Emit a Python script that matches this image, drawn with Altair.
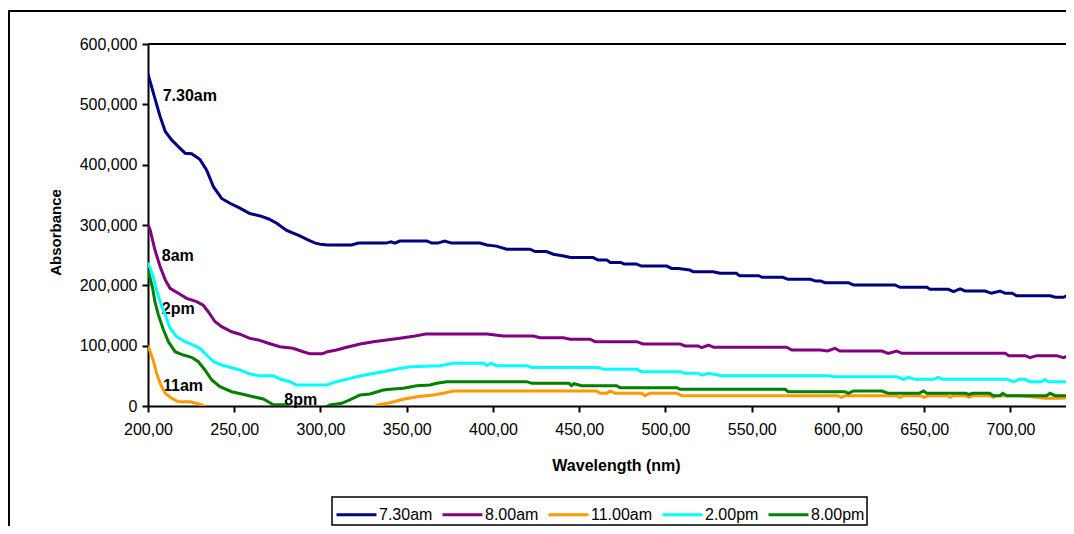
import altair as alt
import pandas as pd

FONT = "Liberation Sans"

series_names = ["7.30am", "8.00am", "11.00am", "2.00pm", "8.00pm"]
series_colors = ["#000080", "#800080", "#FF9900", "#00FFFF", "#008000"]

wl_730 = [200, 202, 204, 207, 210, 213.7, 218.6, 221.5, 225.3, 230, 234, 238, 242.7, 247.5, 253.3,
          259, 265, 270, 274.6, 280.4, 288, 293, 297, 300, 304, 318, 322, 338, 341, 343, 346, 361.6,
          364.5, 368, 372, 376, 392.5, 396.4, 402, 408, 421.5, 424.4, 431, 435, 441, 445, 458, 461,
          466, 468, 474, 476, 483, 486, 500.7, 503.6, 507.5, 514, 516, 527.7, 531.6, 541, 543, 554,
          556, 568, 571, 584, 587, 590, 592.5, 606, 609, 633, 636, 651.5, 653.4, 664, 667, 670.8,
          673.7, 685.3, 689, 694, 697, 701, 703.6, 723, 726, 730.7, 733.6, 736.5, 740]
ab_730 = [550000, 530000, 510000, 480000, 455000, 441000, 427000, 419000, 418000, 409000, 391000,
          363000, 344000, 336000, 328000, 319000, 315000, 310000, 303000, 291000, 282000, 275000,
          270000, 268000, 267000, 267000, 270000, 270000, 272000, 270000, 273500, 273500, 270000,
          270000, 273500, 270000, 270000, 267000, 265000, 260000, 260000, 256000, 256000, 251500,
          248500, 246000, 246000, 242000, 242000, 238000, 238000, 235500, 235500, 232000, 232000,
          228000, 228000, 225500, 222600, 222600, 220000, 220000, 216000, 216000, 213300, 213300,
          210000, 210000, 207000, 207000, 204400, 204400, 200600, 200600, 196700, 196700, 193400,
          193400, 189500, 194000, 190600, 190600, 186800, 190600, 186800, 186800, 182800, 182800,
          180200, 180200, 184000, 177400, 176000]

wl_800 = [200, 201.2, 204, 207, 210, 212.8, 217.6, 222.4, 228.2, 232, 235, 238.8, 242.7, 248.5,
          253.3, 259, 264, 269.7, 276.5, 284, 290, 294, 301, 304, 309.3, 315.2, 323, 330.6, 338.4,
          346, 354.8, 361, 396.4, 406, 423.4, 427.3, 440.8, 444.7, 456.3, 459.2, 483.3, 487, 508.4,
          511.3, 519, 521, 525, 528, 570.3, 573.2, 589.6, 594, 598.3, 601, 625.4, 629.2, 634, 637,
          697, 699, 708.5, 711.4, 715.2, 726.8, 730.7, 733.6, 740]
ab_800 = [300000, 292000, 259000, 231000, 209000, 195000, 187000, 178500, 173000, 167000, 156000,
          140000, 131500, 123000, 119000, 112000, 109500, 104000, 98300, 95600, 90000, 86500, 86500,
          90000, 92800, 97300, 102800, 106600, 109400, 112200, 116000, 119300, 119300, 116000,
          116000, 113200, 113200, 110600, 110600, 106600, 106600, 102800, 102800, 99500, 99500,
          96600, 101000, 97300, 97300, 92800, 92800, 91200, 95600, 91200, 91200, 87300, 91200,
          87300, 87300, 83400, 83400, 80000, 83400, 83400, 80000, 83400, 83400]

wl_1100 = [200, 203, 205, 207.4, 210, 213.7, 217.6, 224.4, 228.2, 231.1, 235, 245, 260, 280, 300,
           315, 325, 330, 333.5, 340.3, 348, 355.8, 365.4, 371.2, 377, 460, 462, 466, 467.9, 470.8,
           486.2, 488.1, 491, 506.5, 509.4, 600, 602, 604, 634, 636, 638, 648, 650, 652, 663, 665,
           667, 674, 676, 678, 688, 690, 692, 705, 712, 720, 730, 736, 740]
ab_1100 = [100000, 76000, 54000, 34800, 21000, 12800, 7100, 7100, 4400, 1700, -4000, -12000, -18000,
           -22000, -20000, -14000, -7000, -2000, 1700, 5500, 11100, 15400, 18200, 21000, 24900,
           24900, 21000, 21000, 24900, 21000, 21000, 17100, 21000, 21000, 17100, 17100, 14500,
           17100, 17100, 14000, 17100, 17100, 14000, 17100, 17100, 14500, 17100, 17100, 14500, 17100,
           17100, 14500, 17100, 17100, 15400, 13000, 13000, 15400, 15400]

wl_200 = [200, 203, 205, 207, 210, 212.8, 216.6, 221.5, 226.3, 230, 234, 238, 242.7, 248.5, 253.3,
          259, 265, 272.6, 276.5, 282.3, 286, 303.6, 304.5, 309.3, 315.2, 321, 328.7, 336.4, 344.2,
          352, 369.3, 377, 394.4, 396.5, 399, 402.2, 419.6, 422.5, 461, 464, 483.3, 486.2, 508.4,
          511.3, 519, 521, 525, 532.6, 595, 597.3, 634, 637.9, 641, 644.7, 655.3, 658, 661, 697.8,
          701.7, 705, 708.5, 711.4, 718, 720, 722, 740]
ab_200 = [238000, 214000, 192000, 173000, 151000, 129000, 115000, 106600, 101000, 95600, 84500,
          73400, 68000, 63500, 59700, 53000, 50200, 50200, 44800, 40300, 34800, 34800, 36000, 40300,
          44200, 48600, 53000, 56900, 61300, 65100, 66800, 70800, 70800, 67500, 70800, 66800, 66800,
          64000, 64000, 60800, 60800, 56900, 56900, 54200, 54200, 51000, 54200, 50200, 50200, 48600,
          48600, 44200, 47500, 44200, 44200, 47500, 44200, 44200, 40300, 44200, 44200, 40300, 40300,
          44000, 40300, 40300]

wl_2000 = [200, 202.7, 204, 206, 209, 211.8, 215.7, 220.5, 225.3, 229.2, 233, 237, 241.7, 248.5,
           254.3, 261, 266.8, 270.7, 272.6, 279.4, 282, 290, 298, 303, 305.5, 312.3, 317, 323, 328.7,
           336.4, 340.3, 348, 355.8, 363.5, 367.4, 373.2, 419.6, 422.5, 444, 445.5, 447, 451.4,
           471.7, 473.7, 506.5, 508.4, 569.3, 571.2, 604, 606, 609, 625.4, 629.2, 647, 649.7, 651.5,
           674, 676, 678, 688, 690, 694, 695.5, 697.8, 721, 722.9, 725.9, 740]
ab_2000 = [225000, 195000, 173000, 151000, 126000, 106600, 90000, 84500, 80700, 73400, 59700, 43100,
           32000, 23700, 19900, 15400, 11600, 5500, 2000, 2000, -3000, -8000, -6000, -2000, 1700,
           4400, 10000, 18200, 19900, 26500, 27600, 29300, 33600, 34800, 37600, 40300, 40300, 37600,
           37600, 34000, 37000, 33600, 33600, 30300, 30300, 27600, 27600, 23700, 23700, 21000, 24900,
           24900, 21000, 21000, 24900, 21000, 21000, 19000, 21000, 21000, 17100, 17100, 21000, 17100,
           17100, 21000, 17100, 17100]

label_text = ["7.30am", "8am", "2pm", "11am", "8pm"]
label_wl = [208.5, 208.0, 208.0, 208.7, 279.0]
label_abs = [513000, 248600, 161000, 33500, 10000]

x_ticks = [200, 250, 300, 350, 400, 450, 500, 550, 600, 650, 700]
y_ticks = [0, 100000, 200000, 300000, 400000, 500000, 600000]

rows = []
all_wl = [wl_730, wl_800, wl_1100, wl_200, wl_2000]
all_ab = [ab_730, ab_800, ab_1100, ab_200, ab_2000]
for name, wls, abs_ in zip(series_names, all_wl, all_ab):
    for w, a in zip(wls, abs_):
        rows.append({"series": name, "wl": w, "abs": a})
df = pd.DataFrame(rows)

labels_df = pd.DataFrame({"text": label_text, "wl": label_wl, "abs": label_abs})

PLOT_W = 918
PLOT_H = 362

x_enc = alt.X(
    "wl:Q",
    scale=alt.Scale(domain=[200, 732.2], nice=False, zero=False),
    axis=alt.Axis(
        values=x_ticks,
        labelExpr="replace(format(datum.value, '.2f'), '.', ',')",
        title="Wavelength (nm)",
        labelFlush=False,
        labelOverlap=False,
        labelPadding=9,
        tickSize=6,
        titleX=468,
        titleY=59,
        titleBaseline="middle",
        titleFontSize=16,
    ),
)
y_enc = alt.Y(
    "abs:Q",
    scale=alt.Scale(domain=[0, 600000], nice=False, zero=True),
    axis=alt.Axis(
        values=y_ticks,
        format=",d",
        title="Absorbance",
        labelPadding=5,
        tickSize=6,
        titleX=-93,
        titleY=188,
        titleBaseline="middle",
        titleFontSize=15,
    ),
)

texts = alt.Chart(labels_df).mark_text(
    align="left", baseline="middle", fontWeight="bold", fontSize=16, font=FONT, color="black"
).encode(x=x_enc, y=y_enc, text="text:N")

lines = alt.Chart(df).mark_line(strokeWidth=3, clip=True).encode(
    x=x_enc,
    y=y_enc,
    color=alt.Color(
        "series:N",
        scale=alt.Scale(domain=series_names, range=series_colors),
        legend=alt.Legend(
            title=None,
            orient="none",
            legendX=184,
            legendY=453,
            direction="horizontal",
            columns=5,
            symbolType="M-1.4286,0L1.4286,0",
            symbolSize=784,
            symbolStrokeWidth=3,
            symbolOffset=7,
            labelFontSize=16,
            labelFont=FONT,
            labelColor="black",
            labelOffset=7,
            columnPadding=3,
            padding=2,
            strokeColor="black",
            fillColor="white",
        ),
    ),
)

one = pd.DataFrame({"k": [0]})
border_left = alt.Chart(one).mark_rule(color="black", strokeWidth=2, clip=False).encode(
    x=alt.value(-139), y=alt.value(-33), y2=alt.value(700)
)
border_top = alt.Chart(one).mark_rule(color="black", strokeWidth=2, clip=False).encode(
    x=alt.value(-140), x2=alt.value(1200), y=alt.value(-33)
)
plot_top = alt.Chart(one).mark_rule(color="black", strokeWidth=2, clip=False).encode(
    x=alt.value(0), x2=alt.value(1200), y=alt.value(0)
)

chart = (
    alt.layer(texts, lines, border_left, border_top, plot_top)
    .properties(
        width=PLOT_W,
        height=PLOT_H,
        autosize=alt.AutoSizeParams(type="none"),
        padding={"left": 140, "top": 36, "right": 0, "bottom": 120},
        background="white",
    )
    .configure_view(strokeWidth=0)
    .configure_axis(
        grid=False,
        domainColor="black",
        domainWidth=2,
        tickColor="black",
        tickWidth=2,
        labelFont=FONT,
        labelFontSize=16,
        labelColor="black",
        titleFont=FONT,
        titleFontWeight="bold",
        titleColor="black",
    )
    .configure_legend(strokeWidth=1.5)
)

chart.save("out.html", embed_options={"renderer": "svg", "actions": False})
